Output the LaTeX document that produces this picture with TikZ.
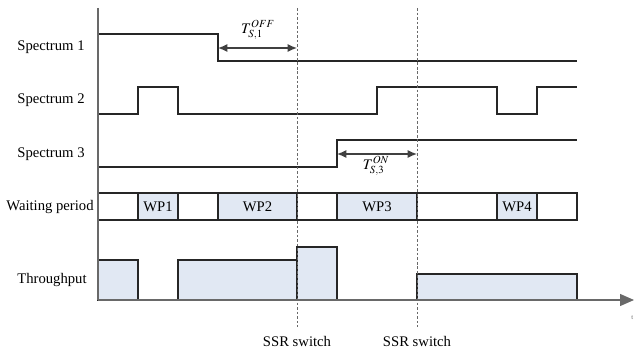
\documentclass[tikz,border=0pt]{standalone}
\usepackage{mathptmx}
\usepackage{fontspec}
\setmainfont{Liberation Serif}
\usetikzlibrary{positioning, arrows.meta}
\definecolor{wpblue}{RGB}{225,232,243}
\definecolor{axisgray}{RGB}{105,105,105}
\tikzset{
    axis/.style={line width=0.9pt, axisgray}, % time and level axes
    signal/.style={line width=0.9pt, black!85}, % spectrum states
    switchline/.style={line width=0.7pt, axisgray, dash pattern=on 2pt off 1.4pt},
    wpbox/.style={draw=black!85, line width=0.9pt, fill=wpblue},
    emptybox/.style={draw=black!85, line width=0.9pt, fill=white},
    rowlabel/.style={anchor=center},
    span/.style={line width=1pt, black!75, {Latex[length=7pt,width=6pt]}-{Latex[length=7pt,width=6pt]}},
}

\begin{document}
\begin{tikzpicture}[x=0.75pt, y=-0.75pt, font=\fontsize{11}{13}\selectfont]
    \useasboundingbox (0,0) rectangle (634,352);

    % Axes
    \coordinate (top) at (98,8);
    \coordinate (origin) at (98,300);
    \coordinate (tend) at (634,300);

    % Row labels
    \node[rowlabel] (s1) at (51,47) {Spectrum 1};
    \node[rowlabel] (s2) at (51,100) {Spectrum 2};
    \node[rowlabel] (s3) at (51,154) {Spectrum 3};
    \node[rowlabel] (wp) at (50,207) {Waiting period};
    \node[rowlabel] (tp) at (52,280) {Throughput};

    % Waiting periods
    \draw[emptybox] (98,193) rectangle (138,220);
    \draw[wpbox] (138,193) rectangle (178,220);
    \draw[emptybox] (178,193) rectangle (218,220);
    \draw[wpbox] (218,193) rectangle (297,220);
    \draw[emptybox] (297,193) rectangle (337,220);
    \draw[wpbox] (337,193) rectangle (417,220);
    \draw[emptybox] (417,193) rectangle (497,220);
    \draw[wpbox] (497,193) rectangle (537,220);
    \draw[emptybox] (537,193) rectangle (577,220);
    \node (wp1) at (158,207) {WP1};
    \node (wp2) at (257.5,207) {WP2};
    \node (wp3) at (377,207) {WP3};
    \node (wp4) at (517,207) {WP4};

    % Throughput
    \draw[wpbox] (98,300) rectangle (138,260);
    \draw[wpbox] (178,300) rectangle (297,260);
    \draw[wpbox] (297,300) rectangle (337,247);
    \draw[wpbox] (417,300) rectangle (577,274);

    % Spectrum states
    \draw[signal] (98,34) -- (218,34) -- (218,61) -- (577,61);
    \draw[signal] (98,114) -- (138,114) -- (138,87) -- (178,87) -- (178,114)
        -- (377,114) -- (377,87) -- (497,87) -- (497,114) -- (537,114)
        -- (537,87) -- (577,87);
    \draw[signal] (98,167) -- (337,167) -- (337,140) -- (577,140);

    \draw[axis] (top) -- (origin);
    \draw[axis, -{Triangle[length=10.5pt,width=9pt]}] (origin) -- (tend);
    \node[font=\fontsize{5}{6}\selectfont, text=axisgray, anchor=west, inner sep=0pt] (t) at (631,318) {t};

    % SSR switches
    \coordinate (sw1top) at (297,8);
    \coordinate (sw1bot) at (297,327);
    \coordinate (sw2top) at (417,8);
    \coordinate (sw2bot) at (417,327);
    \draw[switchline] (sw1top) -- (sw1bot);
    \draw[switchline] (sw2top) -- (sw2bot);
    \node (ssr1) at (297,341) {SSR switch};
    \node (ssr2) at (417,341) {SSR switch};

    % Switching delays
    \coordinate (off1) at (218,48);
    \coordinate (off2) at (297,48);
    \coordinate (on1) at (337,154);
    \coordinate (on2) at (417,154);
    \draw[span] (off1) -- (off2);
    \draw[span] (on1) -- (on2);
    \node (toff) at (258,30) {$T_{S,1}^{OFF}$};
    \node (ton) at (376,166) {$T_{S,3}^{ON}$};
\end{tikzpicture}
\end{document}
